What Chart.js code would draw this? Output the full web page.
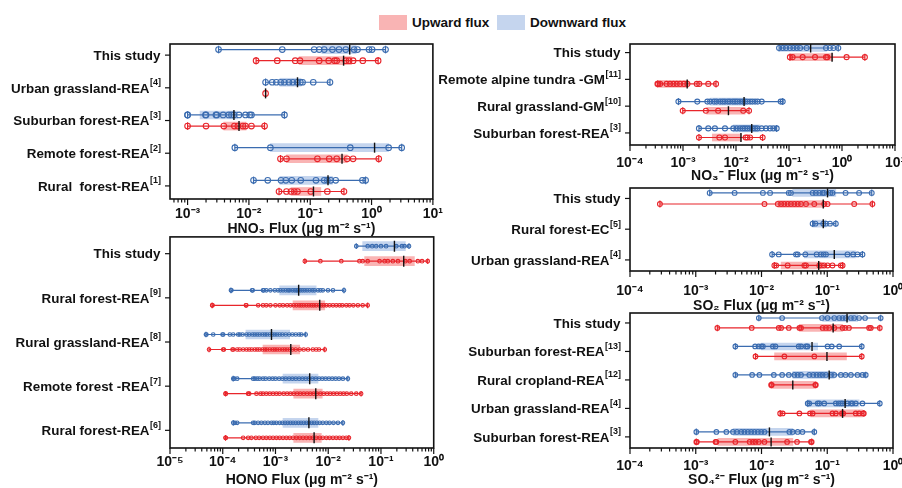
<!DOCTYPE html>
<html>
<head>
<meta charset="utf-8">
<script src="https://cdn.jsdelivr.net/npm/chart.js@4/dist/chart.umd.min.js"></script>
<style>
    html, body {
        margin: 0;
        padding: 0;
        background: #fff;
        overflow: hidden;
    }
    #page {
        position: relative;
        width: 902px;
        height: 488px;
        overflow: hidden;
        font-family: "Liberation Sans", Arial, sans-serif;
    }
    #page canvas {
        position: absolute;
    }
    .swatch {
        position: absolute;
        width: 28px;
        height: 15px;
    }
    .legend-text {
        position: absolute;
        font-weight: bold;
        font-size: 13.5px;
        line-height: 16px;
        color: #111;
    }
</style>
</head>
<body>
<div id="page">
    <div class="swatch" style="left:379px; top:15px; background:#f9b4b4;"></div>
    <div class="legend-text" style="left:412px; top:15px;">Upward flux</div>
    <div class="swatch" style="left:497px; top:15px; background:#c5d5ee;"></div>
    <div class="legend-text" style="left:530px; top:15px;">Downward flux</div>
</div>

<script>
/* HNO3 */
const hno3Labels = ["This study", "Urban grassland-REA", "Suburban forest-REA", "Remote forest-REA", "Rural  forest-REA"];
const hno3Refs = ["", "[4]", "[3]", "[2]", "[1]"];
const hno3Down = [
    [0.0032, 0.035, 0.116, 0.14, 0.169, 0.23, 0.295, 0.38, 0.52, 0.59, 0.91, 1.02, 1.69],
    [0.0187, 0.024, 0.028, 0.033, 0.038, 0.045, 0.052, 0.061, 0.069, 0.075, 0.112, 0.21],
    [0.001, 0.001, 0.00196, 0.002, 0.0029, 0.003, 0.0038, 0.0047, 0.0052, 0.0057, 0.0069, 0.0088, 0.0103, 0.011, 0.038],
    [0.0059, 0.0224, 0.45, 1.9, 3.1],
    [0.0119, 0.0203, 0.0334, 0.040, 0.050, 0.070, 0.124, 0.169, 0.19, 0.216, 0.26, 0.71, 0.80]
];
const hno3Up = [
    [0.0131, 0.029, 0.057, 0.068, 0.14, 0.2, 0.25, 0.27, 0.38, 0.43, 0.5, 0.72, 1.28],
    [0.0187],
    [0.001, 0.002, 0.0039, 0.0058, 0.0066, 0.008, 0.0088, 0.011, 0.018],
    [0.0327, 0.041, 0.131, 0.204, 0.27, 0.40, 0.5, 1.31],
    [0.031, 0.041, 0.0485, 0.055, 0.062, 0.102, 0.19, 0.355]
];
// [q1, median, q3]
const hno3DownBox = [[0.155, 0.44, 0.56], [0.032, 0.062, 0.071], [0.0016, 0.0057, 0.0065], [0.0224, 1.12, 1.9], [0.032, 0.195, 0.23]];
const hno3UpBox = [[0.066, 0.35, 0.47], [0.0187, 0.0187, 0.0187], [0.0039, 0.0069, 0.009], [0.041, 0.33, 0.40], [0.0485, 0.113, 0.149]];

/* HONO */
const honoLabels = ["This study", "Rural forest-REA", "Rural grassland-REA", "Remote forest -REA", "Rural forest-REA"];
const honoRefs = ["", "[9]", "[8]", "[7]", "[6]"];
const honoDown = [
    [0.034, 0.056, 0.068, 0.081, 0.1, 0.125, 0.195, 0.25, 0.28, 0.34],
    [1.43e-4, 1.46e-4, 3.6e-4, 3.7e-4, 5.8e-4, 6.0e-4, 6.7e-4, 8.0e-4, 9.7e-4, 1.12e-3, 1.24e-3, 1.39e-3, 1.56e-3, 1.73e-3, 1.86e-3, 2.09e-3, 2.31e-3, 2.49e-3, 2.67e-3, 2.95e-3, 3.24e-3, 3.58e-3, 3.97e-3, 4.45e-3, 5.0e-3, 5.5e-3, 6.4e-3, 7.1e-3, 7.9e-3, 9.9e-3, 1.23e-2, 1.99e-2],
    [4.8e-5, 4.9e-5, 6.6e-5, 9.9e-5, 1.02e-4, 1.36e-4, 1.58e-4, 1.96e-4, 2.1e-4, 2.37e-4, 2.82e-4, 3.17e-4, 3.66e-4, 4.05e-4, 4.5e-4, 5.0e-4, 5.66e-4, 6.3e-4, 6.9e-4, 7.8e-4, 8.8e-4, 9.7e-4, 1.07e-3, 1.2e-3, 1.35e-3, 1.56e-3, 1.81e-3, 2.09e-3, 2.42e-3, 2.8e-3, 3.09e-3, 3.74e-3],
    [1.58e-4, 1.65e-4, 1.88e-4, 3.77e-4, 4.05e-4, 4.5e-4, 5.0e-4, 5.8e-4, 6.5e-4, 7.6e-4, 8.8e-4, 1.0e-3, 1.17e-3, 1.35e-3, 1.56e-3, 1.81e-3, 2.09e-3, 2.42e-3, 2.8e-3, 3.24e-3, 3.74e-3, 4.3e-3, 5.0e-3, 5.8e-3, 6.7e-3, 7.7e-3, 8.9e-3, 1.03e-2, 1.19e-2, 1.38e-2, 1.6e-2, 1.9e-2, 2.36e-2],
    [1.58e-4, 1.7e-4, 1.88e-4, 3.77e-4, 4.05e-4, 4.68e-4, 5.4e-4, 6.3e-4, 7.2e-4, 8.4e-4, 9.3e-4, 1.04e-3, 1.2e-3, 1.35e-3, 1.52e-3, 1.71e-3, 1.92e-3, 2.15e-3, 2.42e-3, 2.72e-3, 3.05e-3, 3.43e-3, 3.85e-3, 4.3e-3, 4.85e-3, 5.4e-3, 6.1e-3, 6.9e-3, 7.9e-3, 9.2e-3, 1.06e-2, 1.26e-2, 1.53e-2, 1.9e-2]
];
const honoUp = [
    [0.0036, 0.0071, 0.0177, 0.039, 0.045, 0.056, 0.094, 0.117, 0.135, 0.168, 0.21, 0.29, 0.35, 0.50, 0.60, 0.77],
    [6.3e-5, 6.4e-5, 2.75e-4, 2.8e-4, 4.7e-4, 5.8e-4, 6.7e-4, 8.0e-4, 1.0e-3, 1.2e-3, 1.39e-3, 1.66e-3, 1.92e-3, 2.22e-3, 2.49e-3, 2.8e-3, 3.09e-3, 3.43e-3, 3.85e-3, 4.3e-3, 4.8e-3, 5.3e-3, 5.9e-3, 6.7e-3, 7.4e-3, 8.2e-3, 9.2e-3, 1.06e-2, 1.23e-2, 1.42e-2, 1.64e-2, 1.85e-2, 2.2e-2, 2.54e-2, 3.0e-2, 3.65e-2, 4.5e-2, 5.6e-2],
    [5.5e-5, 1.02e-4, 1.05e-4, 1.53e-4, 1.58e-4, 1.88e-4, 2.1e-4, 2.44e-4, 2.82e-4, 3.17e-4, 3.55e-4, 4.05e-4, 4.5e-4, 5.0e-4, 5.66e-4, 6.3e-4, 6.9e-4, 7.8e-4, 8.8e-4, 9.7e-4, 1.07e-3, 1.2e-3, 1.35e-3, 1.5e-3, 1.66e-3, 1.86e-3, 2.09e-3, 2.42e-3, 2.88e-3, 3.43e-3, 4.14e-3, 5.1e-3, 5.9e-3, 6.7e-3, 8.6e-3],
    [1.13e-4, 1.14e-4, 3.03e-4, 3.17e-4, 4.36e-4, 5.2e-4, 5.8e-4, 6.7e-4, 7.8e-4, 9.0e-4, 1.04e-3, 1.2e-3, 1.43e-3, 1.66e-3, 1.92e-3, 2.22e-3, 2.57e-3, 2.95e-3, 3.43e-3, 3.97e-3, 4.57e-3, 5.3e-3, 6.1e-3, 7.1e-3, 8.2e-3, 9.5e-3, 1.09e-2, 1.26e-2, 1.46e-2, 1.69e-2, 1.95e-2, 2.25e-2, 2.73e-2, 3.4e-2, 4.2e-2],
    [1.13e-4, 1.14e-4, 2.44e-4, 3.03e-4, 3.5e-4, 4.24e-4, 4.9e-4, 5.8e-4, 6.7e-4, 7.8e-4, 9.0e-4, 1.04e-3, 1.2e-3, 1.39e-3, 1.61e-3, 1.86e-3, 2.15e-3, 2.49e-3, 2.88e-3, 3.33e-3, 3.85e-3, 4.45e-3, 5.1e-3, 5.9e-3, 6.9e-3, 7.9e-3, 9.2e-3, 1.06e-2, 1.23e-2, 1.42e-2, 1.64e-2, 1.9e-2, 2.2e-2, 2.47e-2]
];
const honoDownBox = [[0.045, 0.18, 0.29], [1.2e-3, 2.75e-3, 5.9e-3], [2.75e-4, 8.4e-4, 1.86e-3], [1.39e-3, 4.45e-3, 6.4e-3], [1.39e-3, 4.3e-3, 6.4e-3]];
const honoUpBox = [[0.049, 0.27, 0.43], [2.15e-3, 6.9e-3, 8.6e-3], [5.8e-4, 1.95e-3, 2.88e-3], [2.22e-3, 5.8e-3, 7.7e-3], [2.22e-3, 5.4e-3, 7.4e-3]];

/* NO3- */
const no3Labels = ["This study", "Remote alpine tundra -GM", "Rural grassland-GM", "Suburban forest-REA"];
const no3Refs = ["", "[11]", "[10]", "[3]"];
const no3Down = [
    [0.065, 0.076, 0.088, 0.104, 0.121, 0.14, 0.162, 0.215, 0.50, 0.59, 0.69, 0.85],
    null,
    [8.2e-4, 1.86e-3, 2.88e-3, 3.24e-3, 3.85e-3, 4.3e-3, 5.0e-3, 5.6e-3, 6.2e-3, 7.0e-3, 7.7e-3, 8.7e-3, 9.6e-3, 1.06e-2, 1.19e-2, 1.34e-2, 1.48e-2, 1.64e-2, 1.84e-2, 2.04e-2, 2.29e-2, 2.57e-2, 3.05e-2, 6.97e-2, 7.6e-2],
    [2.0e-3, 3.0e-3, 4.0e-3, 6.2e-3, 8.9e-3, 1.03e-2, 1.19e-2, 1.34e-2, 1.48e-2, 1.64e-2, 1.84e-2, 2.06e-2, 2.29e-2, 2.53e-2, 3.05e-2, 3.68e-2, 4.38e-2, 5.06e-2, 5.85e-2]
];
const no3Up = [
    [0.104, 0.117, 0.181, 0.31, 0.50, 0.53, 1.22, 2.7],
    [3.3e-4, 3.4e-4, 3.7e-4, 4.9e-4, 5.7e-4, 6.6e-4, 7.6e-4, 8.8e-4, 1.04e-3, 1.21e-3, 1.82e-3, 2.03e-3, 3.0e-3, 4.2e-3],
    [9.9e-4, 2.7e-3, 4.6e-3, 1.37e-2, 1.76e-2],
    [2.0e-3, 4.85e-3, 6.2e-3, 1.52e-2, 1.64e-2, 1.84e-2, 3.18e-2]
];
const no3DownBox = [[0.068, 0.256, 0.51], null, [3.3e-3, 1.42e-2, 1.55e-2], [8.9e-3, 1.98e-2, 2.84e-2]];
const no3UpBox = [[0.104, 0.65, 0.67], [3.4e-4, 1.2e-3, 1.25e-3], [2.8e-3, 7.2e-3, 1.48e-2], [3.57e-3, 1.24e-2, 1.28e-2]];

/* SO2 */
const so2Labels = ["This study", "Rural forest-EC", "Urban grassland-REA"];
const so2Refs = ["", "[5]", "[4]"];
const so2Down = [
    [1.63e-3, 3.9e-3, 1.05e-2, 1.35e-2, 2.6e-2, 2.8e-2, 0.06, 0.067, 0.0757, 0.085, 0.090, 0.111, 0.12, 0.19, 0.305, 0.475],
    [0.060, 0.066, 0.087, 0.0955, 0.110, 0.135],
    [1.45e-2, 1.83e-2, 3.35e-2, 3.55e-2, 4.64e-2, 0.069, 0.080, 0.088, 0.0955, 0.203, 0.248, 0.288, 0.343]
];
const so2Up = [
    [2.85e-4, 1.11e-2, 1.77e-2, 1.99e-2, 2.22e-2, 2.5e-2, 2.8e-2, 3.16e-2, 3.55e-2, 3.99e-2, 4.75e-2, 6.35e-2, 0.090, 0.101, 0.257, 0.486],
    null,
    [1.57e-2, 1.67e-2, 2.5e-2, 4.49e-2, 4.75e-2, 0.0757, 0.083, 0.090, 0.101, 0.12, 0.161, 0.171]
];
const so2DownBox = [[0.0299, 0.101, 0.135], [0.06, 0.087, 0.096], [0.0449, 0.128, 0.27]];
const so2UpBox = [[0.0177, 0.087, 0.09], null, [0.0199, 0.0741, 0.080]];

/* SO4 2- */
const so4Labels = ["This study", "Suburban forest-REA", "Rural cropland-REA", "Urban grassland-REA", "Suburban forest-REA"];
const so4Refs = ["", "[13]", "[12]", "[4]", "[3]"];
const so4Down = [
    [9.1e-3, 2.06e-2, 0.083, 0.101, 0.128, 0.152, 0.171, 0.19, 0.229, 0.257, 0.305, 0.376, 0.65],
    [4.0e-3, 8.0e-3, 9.0e-3, 9.9e-3, 1.05e-2, 1.49e-2, 1.63e-2, 3.68e-2, 4.0e-2, 4.75e-2, 5.0e-2, 0.101, 0.117, 0.152, 0.335],
    [4.0e-3, 7.2e-3, 9.3e-3, 1.54e-2, 2.06e-2, 2.6e-2, 3.16e-2, 3.55e-2, 3.99e-2, 5.33e-2, 6.13e-2, 6.9e-2, 7.74e-2, 0.085, 0.0955, 0.114, 0.128, 0.161, 0.19, 0.229, 0.288, 0.343, 0.385],
    [0.0504, 0.0533, 0.0715, 0.0757, 0.09, 0.135, 0.149, 0.161, 0.171, 0.203, 0.229, 0.242, 0.271, 0.343, 0.63],
    [1.02e-3, 2.06e-3, 2.92e-3, 3.68e-3, 4.23e-3, 4.92e-3, 5.5e-3, 6.2e-3, 6.97e-3, 7.8e-3, 8.8e-3, 9.9e-3, 1.11e-2, 2.65e-2, 2.98e-2, 3.55e-2, 4.2e-2, 6.36e-2]
];
const so4Up = [
    [2.13e-3, 7.1e-3, 1.83e-2, 1.99e-2, 2.6e-2, 3.77e-2, 3.99e-2, 0.085, 0.0955, 0.107, 0.128, 0.171, 0.187, 0.214, 0.433, 0.46, 0.63],
    [8.1e-3, 2.23e-2, 0.0636, 0.335],
    [1.4e-2, 1.43e-2, 6.58e-2, 6.7e-2],
    [1.92e-2, 2.1e-2, 3.77e-2, 5.46e-2, 0.06, 0.12, 0.135, 0.167, 0.175, 0.271, 0.305, 0.35, 0.36],
    [1.02e-3, 1.04e-3, 2.0e-3, 2.06e-3, 4.0e-3, 6.6e-3, 7.4e-3, 8.1e-3, 9.1e-3, 1.11e-2, 2.45e-2, 3.47e-2, 5.66e-2, 5.8e-2]
];
const so4DownBox = [[0.085, 0.2, 0.29], [9.9e-3, 0.0587, 0.0715], [0.03, 0.107, 0.128], [0.05, 0.187, 0.305], [3.7e-3, 1.32e-2, 0.03]];
const so4UpBox = [[0.0377, 0.123, 0.171], [1.58e-2, 0.099, 0.196], [0.014, 0.0299, 0.066], [0.056, 0.171, 0.343], [2.18e-3, 1.4e-2, 0.03]];

/* STYLE */
const FONT = '"Liberation Sans", Arial, sans-serif';
const RED = "#e8252b";
const BLUE = "#3b6cb0";
const RED_BOX = "#f9b4b4";
const BLUE_BOX = "#c5d5ee";

const SUP = { "-": "⁻", "0": "⁰", "1": "¹", "2": "²", "3": "³", "4": "⁴", "5": "⁵", "6": "⁶", "7": "⁷", "8": "⁸", "9": "⁹" };

// plot = [left, top, right, bottom] in page pixels
const panels = [
    {
        left: 0, top: 32, width: 450, height: 207, plot: [170, 44, 434, 199],
        xMin: 5.17e-4, xMax: 10, yMin: -0.34, yMax: 4.4, off: 0.17, r: 2.8, bar: 8, tickPad: 7,
        title: "HNO₃ Flux (μg m⁻² s⁻¹)",
        labels: hno3Labels, refs: hno3Refs, down: hno3Down, up: hno3Up, downBox: hno3DownBox, upBox: hno3UpBox
    },
    {
        left: 0, top: 230, width: 450, height: 260, plot: [170, 235, 434, 448],
        xMin: 1e-5, xMax: 1, yMin: -0.38, yMax: 4.4, off: 0.17, r: 1.8, bar: 9, tickPad: 6,
        title: "HONO Flux (μg m⁻² s⁻¹)",
        labels: honoLabels, refs: honoRefs, down: honoDown, up: honoUp, downBox: honoDownBox, upBox: honoUpBox
    },
    {
        left: 435, top: 32, width: 495, height: 154, plot: [630, 44, 895, 145],
        xMin: 1e-4, xMax: 10, yMin: -0.32, yMax: 3.45, off: 0.17, r: 2.5, bar: 7, tickPad: 10,
        title: "NO₃⁻ Flux (μg m⁻² s⁻¹)",
        labels: no3Labels, refs: no3Refs, down: no3Down, up: no3Up, downBox: no3DownBox, upBox: no3UpBox
    },
    {
        left: 435, top: 180, width: 495, height: 136, plot: [630, 188, 893, 271],
        xMin: 1e-4, xMax: 1, yMin: -0.34, yMax: 2.36, off: 0.18, r: 2.4, bar: 7, tickPad: 12,
        title: "SO₂ Flux (μg m⁻² s⁻¹)",
        labels: so2Labels, refs: so2Refs, down: so2Down, up: so2Up, downBox: so2DownBox, upBox: so2UpBox
    },
    {
        left: 435, top: 305, width: 495, height: 185, plot: [630, 313, 893, 448],
        xMin: 1e-4, xMax: 1, yMin: -0.35, yMax: 4.39, off: 0.175, r: 2.3, bar: 7, tickPad: 10,
        title: "SO₄²⁻ Flux (μg m⁻² s⁻¹)",
        labels: so4Labels, refs: so4Refs, down: so4Down, up: so4Up, downBox: so4DownBox, upBox: so4UpBox
    }
];

/* FRAME, LOG TICKS, ROW NAMES */
const framePlugin = {
    id: "frame",
    afterDraw(chart) {
        const p = chart.options.plugins.frame;
        const { ctx, chartArea: a, scales: { x, y } } = chart;

        ctx.save();
        ctx.strokeStyle = "#111";
        ctx.lineWidth = 1.6;
        ctx.strokeRect(a.left, a.top, a.right - a.left, a.bottom - a.top);

        ctx.lineWidth = 1.2;
        const lo = Math.floor(Math.log10(x.min));
        const hi = Math.ceil(Math.log10(x.max));
        for (let d = lo; d <= hi; d++) {
            for (let k = 1; k < 10; k++) {
                const v = k * Math.pow(10, d);
                if (v < x.min * 0.999 || v > x.max * 1.001) continue;
                const px = x.getPixelForValue(v);
                ctx.beginPath();
                ctx.moveTo(px, a.bottom);
                ctx.lineTo(px, a.bottom + (k === 1 ? 6 : 3.5));
                ctx.stroke();
            }
        }

        ctx.fillStyle = "#111";
        ctx.textAlign = "right";
        ctx.textBaseline = "middle";
        p.labels.forEach((name, i) => {
            const py = y.getPixelForValue(i);
            ctx.beginPath();
            ctx.moveTo(a.left - 5, py);
            ctx.lineTo(a.left, py);
            ctx.stroke();

            const ref = p.refs[i];
            ctx.font = "bold 9px " + FONT;
            const rw = ref ? ctx.measureText(ref).width : 0;
            if (ref) ctx.fillText(ref, a.left - 9, py - 5);
            ctx.font = "bold 13.4px " + FONT;
            ctx.fillText(name, a.left - 9 - rw - 0.5, py + 1);
        });
        ctx.restore();
    }
};

function buildDatasets(p) {

    const sets = [];
    const boxes = [];
    const boxColors = [];
    const medians = [];

    const addSide = (rows, box, off, col, fill) => {

        const pts = [];

        rows.forEach((vals, i) => {

            if (!vals) return;

            const y = i + off;

            vals.forEach(v => pts.push({ x: v, y }));

            // whisker with end caps
            sets.push({
                type: "scatter",
                data: [{ x: Math.min(...vals), y }, { x: Math.max(...vals), y }],
                showLine: true,
                borderColor: col,
                borderWidth: 1.2,
                pointStyle: "line",
                rotation: 90,
                pointRadius: p.r + 1,
                pointBorderColor: col,
                pointBorderWidth: 1.2,
                order: 4
            });

            const b = box[i];
            if (b) {
                boxes.push({ x: [b[0], b[2]], y });
                boxColors.push(fill);
                medians.push({ x: b[1], y });
            }
        });

        sets.push({
            type: "scatter",
            data: pts,
            pointStyle: "circle",
            pointRadius: p.r,
            borderColor: col,
            pointBorderColor: col,
            backgroundColor: "rgba(255,255,255,0)",
            pointBackgroundColor: "rgba(255,255,255,0)",
            pointBorderWidth: 1.1,
            order: 3
        });
    };

    addSide(p.down, p.downBox, -p.off, BLUE, BLUE_BOX);
    addSide(p.up, p.upBox, p.off, RED, RED_BOX);

    sets.push({
        type: "bar",
        indexAxis: "y",
        grouped: false,
        data: boxes,
        backgroundColor: boxColors,
        borderWidth: 0,
        barThickness: p.bar,
        order: 5
    });

    sets.push({
        type: "scatter",
        data: medians,
        pointStyle: "line",
        rotation: 90,
        pointRadius: p.bar / 2 + 1,
        borderColor: "#111",
        pointBorderColor: "#111",
        pointBorderWidth: 1.4,
        order: 1
    });

    return sets;
}

document.addEventListener("DOMContentLoaded", () => {

    Chart.defaults.font.family = FONT;
    Chart.defaults.color = "#111";

    const page = document.getElementById("page");

    panels.forEach(p => {

        const canvas = document.createElement("canvas");
        canvas.width = p.width;
        canvas.height = p.height;
        canvas.style.left = p.left + "px";
        canvas.style.top = p.top + "px";
        page.appendChild(canvas);

        const axisHeight = p.top + p.height - p.plot[3];

        new Chart(canvas, {
            type: "scatter",
            data: { datasets: buildDatasets(p) },
            plugins: [framePlugin],
            options: {
                responsive: false,
                animation: false,
                devicePixelRatio: 1,
                events: [],
                layout: {
                    padding: {
                        left: p.plot[0] - p.left,
                        top: p.plot[1] - p.top,
                        right: p.left + p.width - p.plot[2],
                        bottom: 0
                    }
                },
                scales: {
                    x: {
                        type: "logarithmic",
                        min: p.xMin,
                        max: p.xMax,
                        offset: false,
                        afterBuildTicks: s => {
                            const ticks = [];
                            for (let d = Math.ceil(Math.log10(p.xMin) - 1e-9); d <= Math.floor(Math.log10(p.xMax) + 1e-9); d++) {
                                ticks.push({ value: Math.pow(10, d) });
                            }
                            s.ticks = ticks;
                        },
                        afterFit: s => { s.height = axisHeight; },
                        grid: { display: false, drawTicks: false, offset: false },
                        border: { display: false },
                        ticks: {
                            autoSkip: false,
                            maxRotation: 0,
                            padding: p.tickPad,
                            color: "#111",
                            font: { size: 14, weight: "bold" },
                            callback: v => {
                                const e = String(Math.round(Math.log10(v)));
                                return "10" + e.split("").map(c => SUP[c]).join("");
                            }
                        },
                        title: {
                            display: true,
                            text: p.title,
                            color: "#111",
                            font: { size: 14, weight: "bold" },
                            padding: { top: 0, bottom: 1 }
                        }
                    },
                    y: {
                        type: "linear",
                        display: false,
                        reverse: true,
                        offset: false,
                        grid: { offset: false },
                        min: p.yMin,
                        max: p.yMax
                    }
                },
                plugins: {
                    legend: { display: false },
                    tooltip: { enabled: false },
                    frame: { labels: p.labels, refs: p.refs }
                }
            }
        });
    });
});
</script>
</body>
</html>
